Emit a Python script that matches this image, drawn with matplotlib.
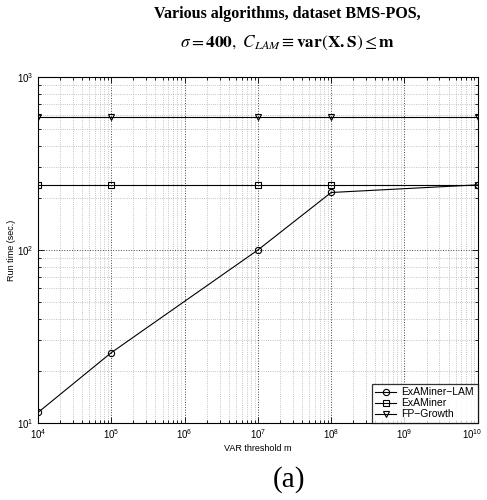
import matplotlib
matplotlib.use("Agg")
import matplotlib.pyplot as plt
import matplotlib.transforms as mtrans
from matplotlib.ticker import LogLocator, NullFormatter, FixedLocator, LogFormatterSciNotation

plt.rcParams['mathtext.fontset'] = 'stix'
plt.rcParams['font.family'] = ['Liberation Sans', 'DejaVu Sans']

x_vals = [1e4, 1e5, 1e7, 1e8, 1e10]
examiner_lam = [11.5, 25.5, 100, 215, 238]
examiner = [238, 238, 238, 238, 238]
fp_growth = [586, 586, 586, 586, 586]
labels = ['ExAMiner\u2212LAM', 'ExAMiner', 'FP\u2212Growth']
x_ticks = [1e4, 1e5, 1e6, 1e7, 1e8, 1e9, 1e10]
y_ticks = [1e1, 1e2, 1e3]

fig = plt.figure(figsize=(4.87, 5.0), dpi=100)
ax = fig.add_axes([0.078, 0.154, 0.903, 0.692])

ax.plot(x_vals, examiner_lam, '-o', color='black', lw=0.8, ms=4.5, mfc='none', mew=0.8, label=labels[0])
ax.plot(x_vals, examiner, '-s', color='black', lw=0.8, ms=4.5, mfc='none', mew=0.8, label=labels[1])
ax.plot(x_vals, fp_growth, '-v', color='black', lw=0.8, ms=4.5, mfc='none', mew=0.8, label=labels[2])

ax.set_xscale('log')
ax.set_yscale('log')
ax.set_xlim(1e4, 1e10)
ax.set_ylim(10, 1000)
ax.xaxis.set_major_locator(FixedLocator(x_ticks))
ax.yaxis.set_major_locator(FixedLocator(y_ticks))
ax.xaxis.set_major_formatter(LogFormatterSciNotation())
ax.yaxis.set_major_formatter(LogFormatterSciNotation())
x_minor = [m * 10**e for e in range(4, 10) for m in range(2, 10)]
y_minor = [m * 10**e for e in range(1, 3) for m in range(2, 10)]
ax.xaxis.set_minor_locator(FixedLocator(x_minor))
ax.yaxis.set_minor_locator(FixedLocator(y_minor))
ax.xaxis.set_minor_formatter(NullFormatter())
ax.yaxis.set_minor_formatter(NullFormatter())

ax.grid(True, which='major', linestyle=':', color='#444444', lw=0.7)
ax.grid(True, which='minor', linestyle=':', color='#b0b0b0', lw=0.6)
ax.tick_params(which='both', direction='in', top=True, right=True, labelsize=7, width=0.6)
ax.tick_params(which='major', length=4, pad=3)
ax.tick_params(which='minor', length=2, labelbottom=False, labelleft=False)
for s in ax.spines.values():
    s.set_linewidth(0.8)

ax.set_xlabel('VAR threshold m', fontsize=6.5, labelpad=2)
ax.set_ylabel('Run time (sec.)', fontsize=6.5, labelpad=1)

leg = ax.legend(loc='lower right', fontsize=7.5, frameon=True, fancybox=False,
                edgecolor='black', borderpad=0.35, labelspacing=0.1, handlelength=2.0,
                handletextpad=0.5, borderaxespad=0.0)
leg.get_frame().set_linewidth(0.9)

fig.text(0.59, 0.973, 'Various algorithms, dataset BMS-POS,', ha='center', va='center',
         fontsize=11.5, fontweight='bold', family='Liberation Serif')
fig.text(0.59, 0.914, r'$\sigma = \mathbf{400},\ C_{LAM} \equiv \mathbf{var}(\mathbf{X.S}) \leq \mathbf{m}$',
         ha='center', va='center', fontsize=12.5)
fig.text(0.593, 0.04, '(a)', ha='center', va='center', fontsize=21, family='Liberation Serif')

fig.canvas.draw()
shift = mtrans.ScaledTranslation(-0.06, 0, fig.dpi_scale_trans)
for t in ax.xaxis.get_major_ticks():
    if abs(t.get_loc() - 1e10) < 1.0:
        t.label1.set_transform(t.label1.get_transform() + shift)

fig.savefig('out.png', dpi=100)
